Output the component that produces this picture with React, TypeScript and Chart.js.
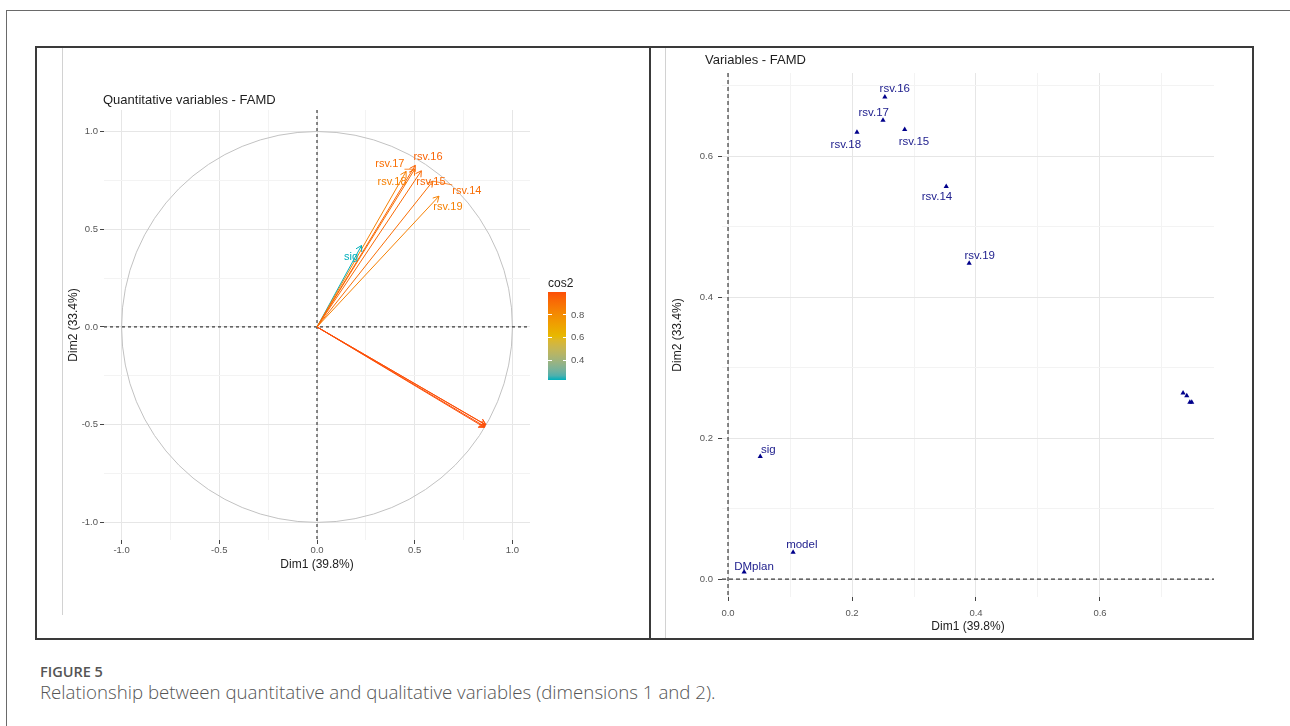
import React, { useEffect, useRef } from 'react';
import { Chart, registerables } from 'chart.js';
Chart.register(...registerables);

const FONT = '"Liberation Sans", Arial, sans-serif';

// ---- Left panel: quantitative variables (correlation circle) ----
const quantNames = ['rsv.14', 'rsv.15', 'rsv.16', 'rsv.17', 'rsv.18', 'rsv.19', 'sig', '', '', '', ''];
const quantDim1 = [0.593, 0.534, 0.503, 0.5, 0.456, 0.624, 0.228, 0.857, 0.86, 0.863, 0.865];
const quantDim2 = [0.746, 0.799, 0.827, 0.807, 0.796, 0.669, 0.417, -0.514, -0.51, -0.501, -0.501];
const quantLabelX = [0.767, 0.583, 0.568, 0.373, 0.384, 0.67, 0.174, 0, 0, 0, 0];
const quantLabelY = [0.696, 0.742, 0.87, 0.834, 0.742, 0.614, 0.358, 0, 0, 0, 0];

// ---- Right panel: all variables ----
const varNames = ['rsv.14', 'rsv.15', 'rsv.16', 'rsv.17', 'rsv.18', 'rsv.19', 'sig', 'model', 'DMplan', '', '', '', ''];
const varDim1 = [0.352, 0.285, 0.253, 0.25, 0.208, 0.389, 0.052, 0.105, 0.026, 0.734, 0.74, 0.745, 0.748];
const varDim2 = [0.557, 0.638, 0.684, 0.651, 0.634, 0.448, 0.174, 0.038, 0.01, 0.264, 0.26, 0.251, 0.251];
const varLabelX = [0.337, 0.3, 0.269, 0.235, 0.19, 0.406, 0.065, 0.119, 0.042, 0, 0, 0, 0];
const varLabelY = [0.542, 0.62, 0.696, 0.662, 0.616, 0.458, 0.183, 0.048, 0.018, 0, 0, 0, 0];

// ---- ticks ----
const circleTicks = [-1, -0.75, -0.5, -0.25, 0, 0.25, 0.5, 0.75, 1];
const circleMajor = [-1, -0.5, 0, 0.5, 1];
const famdTicks = [0, 0.1, 0.2, 0.3, 0.4, 0.5, 0.6, 0.7];
const famdMajor = [0, 0.2, 0.4, 0.6];
const cos2Ticks = [0.4, 0.6, 0.8];
const gradientStops = ['#00AFBB', '#E7B800', '#FC4E07'];

const cos2 = quantDim1.map((x, i) => x * x + quantDim2[i] * quantDim2[i]);
const cosMin = Math.min(...cos2);
const cosMax = Math.max(...cos2);

// --- colour interpolation in CIE Lab (like ggplot2 gradientn) ---
function hexToRgb(h: string) {
  const n = parseInt(h.slice(1), 16);
  return [(n >> 16) & 255, (n >> 8) & 255, n & 255];
}
const toLin = (c: number) => { c /= 255; return c <= 0.04045 ? c / 12.92 : Math.pow((c + 0.055) / 1.055, 2.4); };
const fromLin = (c: number) => { const v = c <= 0.0031308 ? 12.92 * c : 1.055 * Math.pow(c, 1 / 2.4) - 0.055; return Math.max(0, Math.min(255, Math.round(v * 255))); };
const WX = 0.95047, WY = 1, WZ = 1.08883;
const fLab = (t: number) => (t > 216 / 24389 ? Math.cbrt(t) : (24389 / 27 * t + 16) / 116);
const fInv = (t: number) => (t * t * t > 216 / 24389 ? t * t * t : (116 * t - 16) / (24389 / 27));
function rgbToLab(rgb: number[]) {
  const [r, g, b] = rgb.map(toLin);
  const X = (0.4124 * r + 0.3576 * g + 0.1805 * b) / WX;
  const Y = (0.2126 * r + 0.7152 * g + 0.0722 * b) / WY;
  const Z = (0.0193 * r + 0.1192 * g + 0.9505 * b) / WZ;
  const fx = fLab(X), fy = fLab(Y), fz = fLab(Z);
  return [116 * fy - 16, 500 * (fx - fy), 200 * (fy - fz)];
}
function labToRgb(lab: number[]) {
  const fy = (lab[0] + 16) / 116;
  const fx = fy + lab[1] / 500;
  const fz = fy - lab[2] / 200;
  const X = fInv(fx) * WX, Y = fInv(fy) * WY, Z = fInv(fz) * WZ;
  const r = 3.2406 * X - 1.5372 * Y - 0.4986 * Z;
  const g = -0.9689 * X + 1.8758 * Y + 0.0415 * Z;
  const b = 0.0557 * X - 0.204 * Y + 1.057 * Z;
  return [fromLin(r), fromLin(g), fromLin(b)];
}
const stopLabs = gradientStops.map((h) => rgbToLab(hexToRgb(h)));
function gradAt(t: number) {
  t = Math.max(0, Math.min(1, t));
  const seg = t < 0.5 ? 0 : 1;
  const lt = t < 0.5 ? t * 2 : (t - 0.5) * 2;
  const a = stopLabs[seg], b = stopLabs[seg + 1];
  const c = labToRgb(a.map((av, k) => av + (b[k] - av) * lt));
  return `rgb(${c[0]},${c[1]},${c[2]})`;
}
const gradColor = (v: number) => gradAt((v - cosMin) / (cosMax - cosMin));
const barGradient = `linear-gradient(to top, ${Array.from({ length: 21 }, (_, k) => gradAt(k / 20)).join(', ')})`;

const isIn = (v: number, arr: number[]) => arr.some((m) => Math.abs(m - v) < 1e-9);

function axis(o: {
  min: number; max: number; ticks: number[]; majors: number[]; title: string;
  size: number; horizontal: boolean; tickPad: number; titlePad: any;
}) {
  return {
    type: 'linear',
    min: o.min,
    max: o.max,
    afterBuildTicks: (s: any) => { s.ticks = o.ticks.map((v) => ({ value: v })); },
    afterFit: (s: any) => { if (o.horizontal) s.height = o.size; else s.width = o.size; },
    grid: {
      color: (c: any) => (c.tick && isIn(c.tick.value, o.majors) ? '#E6E6E6' : '#F3F3F3'),
      lineWidth: 1,
      drawTicks: true,
      tickLength: 4,
      tickWidth: 1,
      tickColor: (c: any) => (c.tick && isIn(c.tick.value, o.majors) ? '#444' : 'rgba(0,0,0,0)'),
    },
    border: { display: false },
    ticks: {
      autoSkip: false,
      maxRotation: 0,
      minRotation: 0,
      padding: o.tickPad,
      color: '#555',
      font: { family: FONT, size: 9.5 },
      callback: (v: any) => (isIn(Number(v), o.majors) ? Number(v).toFixed(1) : ''),
    },
    title: {
      display: true,
      text: o.title,
      color: '#222',
      font: { family: FONT, size: 12 },
      padding: o.titlePad,
    },
  };
}

function drawLabel(ctx: CanvasRenderingContext2D, text: string, lx: number, ly: number, px: number, py: number, color: string, leader: boolean) {
  const w = ctx.measureText(text).width;
  const h = 12;
  if (leader) {
    const bx = Math.max(lx - w / 2, Math.min(px, lx + w / 2));
    const by = Math.max(ly - h / 2, Math.min(py, ly + h / 2));
    const d = Math.hypot(px - bx, py - by);
    if (d > 8) {
      ctx.save();
      ctx.strokeStyle = color;
      ctx.lineWidth = 0.8;
      ctx.beginPath();
      ctx.moveTo(bx, by);
      ctx.lineTo(px, py);
      ctx.stroke();
      ctx.restore();
    }
  }
  ctx.fillStyle = color;
  ctx.fillText(text, lx, ly);
}

const circlePlugin = {
  id: 'circleDecor',
  beforeDatasetsDraw(chart: any) {
    const { ctx, chartArea: a, scales } = chart;
    const x = scales.x, y = scales.y;
    const cx = x.getPixelForValue(0), cy = y.getPixelForValue(0);
    const rx = x.getPixelForValue(1) - cx, ry = cy - y.getPixelForValue(1);
    ctx.save();
    ctx.strokeStyle = '#C2C2C2';
    ctx.lineWidth = 1;
    ctx.beginPath();
    ctx.ellipse(cx, cy, rx, ry, 0, 0, Math.PI * 2);
    ctx.stroke();
    ctx.setLineDash([3, 3]);
    ctx.strokeStyle = '#3c3c3c';
    ctx.lineWidth = 1.2;
    ctx.beginPath();
    ctx.moveTo(a.left, cy); ctx.lineTo(a.right, cy);
    ctx.moveTo(cx, a.top); ctx.lineTo(cx, a.bottom);
    ctx.stroke();
    ctx.restore();
  },
  afterDatasetsDraw(chart: any) {
    const { ctx, scales } = chart;
    const x = scales.x, y = scales.y;
    const ox = x.getPixelForValue(0), oy = y.getPixelForValue(0);
    ctx.save();
    quantDim1.forEach((d1, i) => {
      const tx = x.getPixelForValue(d1), ty = y.getPixelForValue(quantDim2[i]);
      const ang = Math.atan2(ty - oy, tx - ox);
      const L = 6.5;
      ctx.strokeStyle = gradColor(cos2[i]);
      ctx.lineWidth = 1;
      ctx.beginPath();
      ctx.moveTo(tx - L * Math.cos(ang - Math.PI / 6), ty - L * Math.sin(ang - Math.PI / 6));
      ctx.lineTo(tx, ty);
      ctx.lineTo(tx - L * Math.cos(ang + Math.PI / 6), ty - L * Math.sin(ang + Math.PI / 6));
      ctx.stroke();
    });
    ctx.font = `11px ${FONT}`;
    ctx.textAlign = 'center';
    ctx.textBaseline = 'middle';
    quantNames.forEach((n, i) => {
      if (!n) return;
      drawLabel(ctx, n, x.getPixelForValue(quantLabelX[i]), y.getPixelForValue(quantLabelY[i]),
        x.getPixelForValue(quantDim1[i]), y.getPixelForValue(quantDim2[i]), gradColor(cos2[i]), true);
    });
    ctx.restore();
  },
};

const famdPlugin = {
  id: 'famdDecor',
  beforeDatasetsDraw(chart: any) {
    const { ctx, chartArea: a, scales } = chart;
    const cx = scales.x.getPixelForValue(0), cy = scales.y.getPixelForValue(0);
    ctx.save();
    ctx.setLineDash([4, 3]);
    ctx.strokeStyle = '#3c3c3c';
    ctx.lineWidth = 1.2;
    ctx.beginPath();
    ctx.moveTo(a.left, cy); ctx.lineTo(a.right, cy);
    ctx.moveTo(cx, a.top); ctx.lineTo(cx, a.bottom);
    ctx.stroke();
    ctx.restore();
  },
  afterDatasetsDraw(chart: any) {
    const { ctx, scales } = chart;
    ctx.save();
    ctx.font = `11.5px ${FONT}`;
    ctx.textAlign = 'center';
    ctx.textBaseline = 'middle';
    varNames.forEach((n, i) => {
      if (!n) return;
      drawLabel(ctx, n, scales.x.getPixelForValue(varLabelX[i]), scales.y.getPixelForValue(varLabelY[i]),
        scales.x.getPixelForValue(varDim1[i]), scales.y.getPixelForValue(varDim2[i]), '#22228f', false);
    });
    ctx.restore();
  },
};

function leftConfig(): any {
  return {
    type: 'scatter',
    data: {
      datasets: quantNames.map((n, i) => ({
        label: n || 'var' + i,
        data: [{ x: 0, y: 0 }, { x: quantDim1[i], y: quantDim2[i] }],
        showLine: true,
        borderColor: gradColor(cos2[i]),
        borderWidth: 1,
        pointRadius: 0,
        fill: false,
      })),
    },
    options: {
      animation: false,
      responsive: false,
      maintainAspectRatio: false,
      layout: { padding: { left: 0, right: 118, top: 62, bottom: 57 } },
      plugins: { legend: { display: false }, tooltip: { enabled: false }, title: { display: false } },
      scales: {
        x: axis({ min: -1.09, max: 1.09, ticks: circleTicks, majors: circleMajor, title: 'Dim1 (39.8%)', size: 40, horizontal: true, tickPad: 1, titlePad: { top: 0, bottom: 8 } }),
        y: axis({ min: -1.09, max: 1.11, ticks: circleTicks, majors: circleMajor, title: 'Dim2 (33.4%)', size: 67, horizontal: false, tickPad: 2, titlePad: { top: 29, bottom: 0 } }),
      },
    },
    plugins: [circlePlugin],
  };
}

function rightConfig(): any {
  return {
    type: 'scatter',
    data: {
      datasets: [{
        label: 'variables',
        data: varDim1.map((x, i) => ({ x, y: varDim2[i] })),
        pointStyle: 'triangle',
        pointRadius: 3,
        backgroundColor: '#00008B',
        borderColor: '#00008B',
        borderWidth: 0,
      }],
    },
    options: {
      animation: false,
      responsive: false,
      maintainAspectRatio: false,
      layout: { padding: { left: 0, right: 37, top: 25, bottom: 1 } },
      plugins: { legend: { display: false }, tooltip: { enabled: false }, title: { display: false } },
      scales: {
        x: axis({ min: -0.0097, max: 0.7839, ticks: famdTicks, majors: famdMajor, title: 'Dim1 (39.8%)', size: 39, horizontal: true, tickPad: 7, titlePad: { top: 0, bottom: 1.8 } }),
        y: axis({ min: -0.0255, max: 0.718, ticks: famdTicks, majors: famdMajor, title: 'Dim2 (33.4%)', size: 70, horizontal: false, tickPad: 5, titlePad: { top: 18.8, bottom: 0 } }),
      },
    },
    plugins: [famdPlugin],
  };
}

const BAR_TOP = 292;
const BAR_H = 88;
const barY = (v: number) => BAR_TOP + ((cosMax - v) / (cosMax - cosMin)) * BAR_H;

export default function App() {
  const leftRef = useRef<HTMLCanvasElement>(null);
  const rightRef = useRef<HTMLCanvasElement>(null);
  useEffect(() => {
    const c1 = new Chart(leftRef.current as HTMLCanvasElement, leftConfig());
    const c2 = new Chart(rightRef.current as HTMLCanvasElement, rightConfig());
    return () => { c1.destroy(); c2.destroy(); };
  }, []);

  const abs = (s: any): React.CSSProperties => ({ position: 'absolute', ...s });

  return (
    <div style={{ position: 'fixed', left: 0, top: 0, width: 1290, height: 726, overflow: 'hidden', background: '#fff', fontFamily: FONT }}>
      <div style={abs({ left: 6, top: 10, width: 1400, height: 800, borderTop: '1.5px solid #6a6a6a', borderLeft: '1.5px solid #6a6a6a' })} />
      <div style={abs({ left: 35, top: 46, width: 616, height: 594, border: '2px solid #3a3a3a', boxSizing: 'border-box' })} />
      <div style={abs({ left: 649, top: 46, width: 605, height: 594, border: '2px solid #3a3a3a', boxSizing: 'border-box' })} />
      <div style={abs({ left: 62, top: 48, width: 1, height: 567, background: '#d2d2d2' })} />
      <div style={abs({ left: 665, top: 48, width: 1, height: 590, background: '#d2d2d2' })} />

      <canvas ref={leftRef} width={611} height={589} style={abs({ left: 37, top: 48 })} />
      <canvas ref={rightRef} width={599} height={589} style={abs({ left: 652, top: 48 })} />

      <div style={abs({ left: 103, top: 92, fontSize: 13, lineHeight: '16px', color: '#1e1e1e', whiteSpace: 'nowrap' })}>Quantitative variables - FAMD</div>
      <div style={abs({ left: 705, top: 52, fontSize: 13, lineHeight: '16px', color: '#1e1e1e', whiteSpace: 'nowrap' })}>Variables - FAMD</div>

      <div style={abs({ left: 548, top: 275, fontSize: 12, lineHeight: '16px', color: '#222' })}>cos2</div>
      <div style={abs({ left: 548, top: BAR_TOP, width: 18, height: BAR_H, background: barGradient })} />
      {cos2Ticks.map((v) => (
        <React.Fragment key={v}>
          <div style={abs({ left: 548, top: barY(v) - 0.5, width: 3.5, height: 1, background: '#fff' })} />
          <div style={abs({ left: 562.5, top: barY(v) - 0.5, width: 3.5, height: 1, background: '#fff' })} />
          <div style={abs({ left: 571, top: barY(v) - 6, fontSize: 9.5, lineHeight: '12px', color: '#555' })}>{v.toFixed(1)}</div>
        </React.Fragment>
      ))}

      <div style={abs({ left: 40, top: 662, fontSize: 14.5, lineHeight: '20px', color: '#555', fontFamily: '"Open Sans", sans-serif', fontWeight: 600, whiteSpace: 'nowrap' })}>FIGURE 5</div>
      <div style={abs({ left: 40, top: 681, fontSize: 18.7, lineHeight: '22px', color: '#555', fontFamily: '"Open Sans", sans-serif', fontWeight: 300, whiteSpace: 'nowrap' })}>Relationship between quantitative and qualitative variables (dimensions 1 and 2).</div>
    </div>
  );
}
